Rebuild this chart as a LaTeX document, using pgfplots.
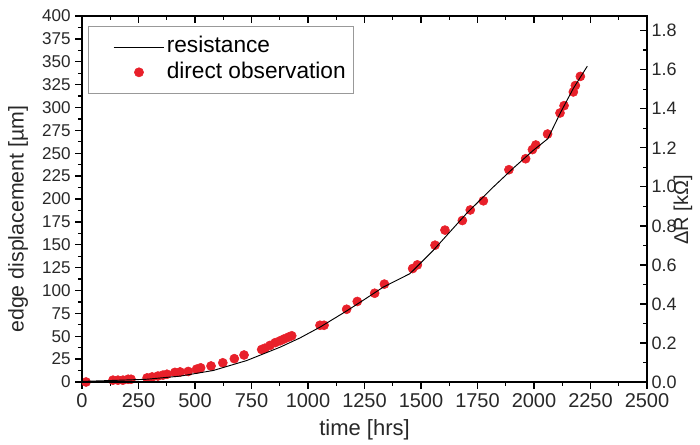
\documentclass[border=0pt]{standalone}
\usepackage{fontspec}
\setmainfont{Liberation Sans}
\usepackage{pgfplots}
\pgfplotsset{compat=1.18}
\definecolor{dotred}{RGB}{232,32,42}
\definecolor{txt}{RGB}{40,40,40}

\begin{document}
\begin{tikzpicture}
\pgfplotsset{
  every axis/.append style={
    scale only axis, width=423.75pt, height=274.5pt,
    at={(0,0)}, anchor=south west,
    xmin=0, xmax=2500, clip=false,
    xtick={0,250,...,2500}, minor x tick num=1,
    axis line style={line width=1.2pt, black},
    major tick length=5pt, minor tick length=3pt,
    every tick/.style={black, line width=1pt},
    /pgf/number format/assume math mode=true,
    /pgf/number format/1000 sep={},
    tick label style={txt},
  }
}
% left axis: direct observation
\begin{axis}[
  ymin=0, ymax=400, ytick={0,25,...,400}, minor y tick num=1,
  xtick pos=bottom, ytick pos=left, tick align=outside,
  xticklabel style={font=\fontsize{15}{15}\selectfont},
  yticklabel style={font=\fontsize{12.8}{13}\selectfont},
  xlabel={time [hrs]},
  xlabel style={font=\fontsize{16.5}{17}\selectfont, txt, at={(axis description cs:0.5,-0.131)}, anchor=center},
  ylabel={edge displacement [µm]},
  ylabel style={font=\fontsize{16}{17}\selectfont, txt, at={(axis description cs:-0.1133,0.445)}, anchor=center},
]
\addplot[only marks, mark=*, mark size=3.4pt, color=dotred] coordinates {
  (18,0) (137,2) (159,2) (181,2) (204,3) (217,3)
  (288,4.5) (310,5.5) (336,6.5) (358,7.5) (376,8.5) (411,10.5) (434,11)
  (470,11.5) (507,14) (525,15.5) (571,17.5) (623,21) (674,25.5) (717,29.5)
  (795,35.5) (810,37) (832,40) (855,43) (876,45) (894,47) (913,49) (928,50.5)
  (1053,62) (1071,62) (1171,79.5) (1218,88) (1295,97) (1338,107)
  (1463,124) (1484,128) (1562,149.5) (1606,166) (1683,176.5) (1718,188)
  (1776,198) (1889,232) (1963,244) (1993,254) (2008,259) (2060,271)
  (2115,294) (2133,302) (2174,317) (2183,324) (2205,334)
};
\end{axis}
% right axis: resistance
\begin{axis}[
  ymin=0, ymax=1.875,
  ytick={0,0.2,0.4,0.6,0.8,1.0,1.2,1.4,1.6,1.8}, minor y tick num=1,
  xtick pos=top, ytick pos=right, yticklabel pos=right, tick align=inside,
  xticklabels={},
  yticklabel style={font=\fontsize{13.5}{14}\selectfont,
    /pgf/number format/.cd, fixed, fixed zerofill, precision=1},
  ylabel={ΔR [kΩ]},
  ylabel style={font=\fontsize{15}{16}\selectfont, txt, at={(axis description cs:1.0637,0.47)}, anchor=center},
  legend style={at={(0.0106,0.9727)}, anchor=north west,
    draw=gray!80, line width=0.5pt, fill=white,
    inner xsep=4pt, inner ysep=6pt, row sep=0pt,
    font=\fontsize{17}{18}\selectfont, text=black,
    nodes={text height=12.5pt, text depth=3.5pt, inner sep=1.5pt, anchor=west}},
  legend cell align=left,
]
\addplot[black, line width=0.7pt, mark=none,
  legend image code/.code={\path[draw=none] (0pt,0pt) -- (15pt,0pt); \draw[black, line width=0.7pt] (15pt,0pt) -- (53pt,0pt);}]
  coordinates {
  (0,0.003) (138,0.008) (286,0.014) (434,0.030) (581,0.059) (729,0.110)
  (876,0.178) (965,0.226) (1053,0.281) (1171,0.364) (1250,0.423) (1333,0.486)
  (1451,0.555) (1554,0.674) (1702,0.864) (1820,0.999) (1908,1.095)
  (1997,1.187) (2061,1.246) (2115,1.375) (2174,1.504) (2236,1.618)
};
\addlegendentry{resistance}
\addlegendimage{legend image code/.code={\path[draw=none] (0pt,0pt) -- (53pt,0pt); \fill[dotred] (34pt,0pt) circle (3.4pt);}}
\addlegendentry{direct observation}
\end{axis}
\pgfresetboundingbox
\path[use as bounding box] (-61.5pt,-47.25pt) rectangle (463.5pt,286.5pt);
\end{tikzpicture}
\end{document}
